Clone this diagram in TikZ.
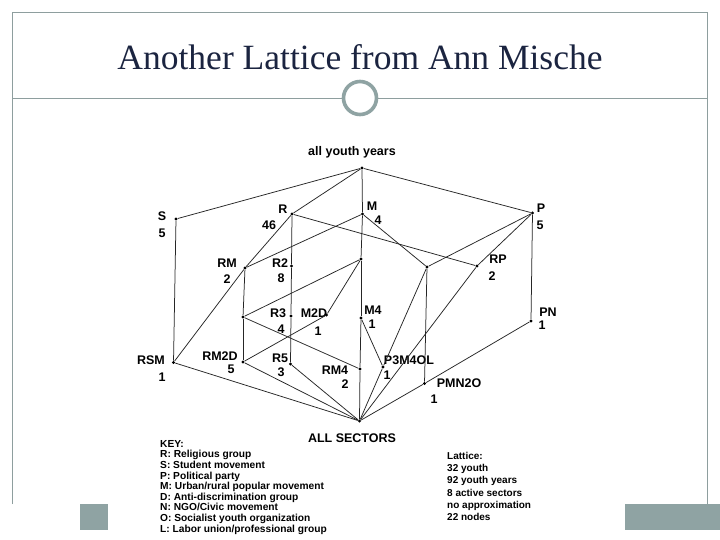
\documentclass[tikz,border=0pt]{standalone}
\usepackage{fontspec}
\setmainfont{Liberation Serif}
\setsansfont{Liberation Sans}
\usetikzlibrary{positioning}
\definecolor{framegray}{HTML}{8E9E9E}
\definecolor{ringgray}{HTML}{8FA3A3}
\definecolor{titleblue}{HTML}{1B2440}
\begin{document}
\begin{tikzpicture}[
    x=1pt, y=1pt,
    dot/.style={circle, fill=black, inner sep=0pt, minimum size=3.4pt},
    lbl/.style={font=\sffamily\bfseries\fontsize{12.5}{12.5}\selectfont, inner sep=0pt},
    keytext/.style={font=\sffamily\bfseries\fontsize{10.2}{10.6}\selectfont, align=left, inner sep=0pt, anchor=north west},
    link/.style={line width=0.75pt, black!85}
]
\useasboundingbox (0,0) rectangle (720,-540);
\fill[white] (0,0) rectangle (720,-540);

% Slide frame
\draw[framegray, line width=0.9pt] (12,-504) -- (12,-12) -- (707,-12) -- (707,-504);
\fill[ringgray] (80,-504) rectangle (108,-530);
\fill[ringgray] (625,-504) rectangle (720,-530);
\node[font=\fontsize{35.5}{35.5}\selectfont, text=titleblue, inner sep=0pt] (title) at (360,-57) {Another Lattice from Ann Mische};
\node[circle, draw=ringgray, line width=3.6pt, minimum size=33pt, inner sep=0pt] (ring) at (360,-98) {};
\coordinate (ruleL) at (12,-98);
\coordinate (ruleR) at (707,-98);
\draw[framegray, line width=0.9pt] (ruleL) -- (ring.west);
\draw[framegray, line width=0.9pt] (ring.east) -- (ruleR);

% Lattice nodes
\node[dot] (top) at (362,-168) {};
\node[dot] (S) at (176,-219) {};
\node[dot] (R) at (292,-214) {};
\node[dot] (M) at (362.5,-214) {};
\node[dot] (P) at (532.5,-213) {};
\node[dot] (RM) at (245,-268) {};
\node[dot] (R2) at (291.5,-266) {};
\node[dot] (Mu) at (361,-259) {};
\node[dot] (MP) at (427,-267) {};
\node[dot] (RP) at (477,-266) {};
\node[dot] (Ru) at (243,-317) {};
\node[dot] (R3) at (291,-316) {};
\node[dot] (M2D) at (326.5,-315) {};
\node[dot] (M4) at (361,-318) {};
\node[dot] (PN) at (531,-321) {};
\node[dot] (RSM) at (173.5,-362.5) {};
\node[dot] (RM2D) at (243,-362) {};
\node[dot] (R5) at (290.5,-364) {};
\node[dot] (RM4) at (360,-369) {};
\node[dot] (P3M4OL) at (383,-367) {};
\node[dot] (PMN2O) at (424.5,-383.5) {};
\node[dot] (ALL) at (359.5,-421) {};

% Labels
\node[lbl] (topl) at (352,-152) {all youth years};
\node[lbl] (Sl) at (162,-216) {S};
\node[lbl] (Sn) at (162,-233) {5};
\node[lbl] (Rl) at (283,-209) {R};
\node[lbl] (Rn) at (269,-225) {46};
\node[lbl] (Ml) at (372,-206) {M};
\node[lbl] (Mn) at (378,-220) {4};
\node[lbl] (Pl) at (541,-208) {P};
\node[lbl] (Pn) at (540,-225) {5};
\node[lbl] (RMl) at (227,-263) {RM};
\node[lbl] (RMn) at (227,-279) {2};
\node[lbl] (R2l) at (280,-263) {R2};
\node[lbl] (R2n) at (281,-278) {8};
\node[lbl] (RPl) at (498,-259) {RP};
\node[lbl] (RPn) at (492,-276) {2};
\node[lbl] (R3l) at (278,-313) {R3};
\node[lbl] (R3n) at (281,-329) {4};
\node[lbl] (M2Dl) at (314,-313) {M2D};
\node[lbl] (M2Dn) at (318,-331) {1};
\node[lbl] (M4l) at (373,-310) {M4};
\node[lbl] (M4n) at (372,-324) {1};
\node[lbl] (PNl) at (548,-312) {PN};
\node[lbl] (PNn) at (542,-325) {1};
\node[lbl] (RSMl) at (151,-360) {RSM};
\node[lbl] (RSMn) at (162,-377) {1};
\node[lbl] (RM2Dl) at (220,-356) {RM2D};
\node[lbl] (RM2Dn) at (231,-369) {5};
\node[lbl] (R5l) at (280,-358) {R5};
\node[lbl] (R5n) at (281,-372) {3};
\node[lbl] (RM4l) at (335,-370) {RM4};
\node[lbl] (RM4n) at (345,-384) {2};
\node[lbl] (P3M4OLl) at (409,-360) {P3M4OL};
\node[lbl] (P3M4OLn) at (387,-375) {1};
\node[lbl] (PMN2Ol) at (459,-383) {PMN2O};
\node[lbl] (PMN2On) at (434,-399) {1};
\node[lbl] (ALLl) at (352,-438) {ALL SECTORS};

% Key and summary
\node[keytext] (key) at (160,-440) {KEY:\\R: Religious group\\S: Student movement\\P: Political party\\M: Urban/rural popular movement\\D: Anti-discrimination group\\N: NGO/Civic movement\\O: Socialist youth organization\\L: Labor union/professional group};
\node[keytext, font=\sffamily\bfseries\fontsize{10}{12.2}\selectfont] (summary) at (447,-452) {Lattice:\\32 youth\\92 youth years\\8 active sectors\\no approximation\\22 nodes};

% Edges
\draw[link] (top) -- (S);
\draw[link] (top) -- (R);
\draw[link] (top) -- (M);
\draw[link] (top) -- (P);
\draw[link] (S) -- (RSM);
\draw[link] (R) -- (RM);
\draw[link] (R) -- (R2);
\draw[link] (R) -- (RP);
\draw[link] (M) -- (RM);
\draw[link] (M) -- (Mu);
\draw[link] (M) -- (MP);
\draw[link] (P) -- (MP);
\draw[link] (P) -- (RP);
\draw[link] (P) -- (PN);
\draw[link] (RM) -- (RSM);
\draw[link] (RM) -- (Ru);
\draw[link] (R2) -- (R3);
\draw[link] (Mu) -- (Ru);
\draw[link] (Mu) -- (M2D);
\draw[link] (Mu) -- (M4);
\draw[link] (MP) -- (P3M4OL);
\draw[link] (MP) -- (PMN2O);
\draw[link] (RP) -- (ALL);
\draw[link] (Ru) -- (RM2D);
\draw[link] (Ru) -- (RM4);
\draw[link] (R3) -- (R5);
\draw[link] (M2D) -- (RM2D);
\draw[link] (M4) -- (RM4);
\draw[link] (M4) -- (P3M4OL);
\draw[link] (PN) -- (PMN2O);
\draw[link] (RSM) -- (ALL);
\draw[link] (RM2D) -- (ALL);
\draw[link] (R5) -- (ALL);
\draw[link] (RM4) -- (ALL);
\draw[link] (P3M4OL) -- (ALL);
\draw[link] (PMN2O) -- (ALL);
\end{tikzpicture}
\end{document}
